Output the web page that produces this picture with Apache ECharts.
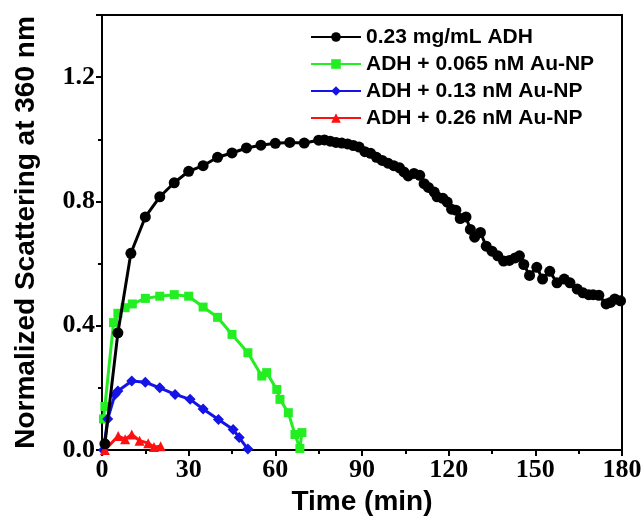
<!DOCTYPE html>
<html>
<head>
<meta charset="utf-8">
<script src="https://cdn.jsdelivr.net/npm/echarts@6/dist/echarts.min.js"></script>
<style>html,body{margin:0;padding:0;background:#fff;overflow:hidden}#c{width:644px;height:516px}</style>
</head>
<body>
<div id="c"></div>
<script>
// ---- data (time in min, normalized scattering) ----
var seriesNames = ['0.23 mg/mL ADH', 'ADH + 0.065 nM Au-NP', 'ADH + 0.13 nM Au-NP', 'ADH + 0.26 nM Au-NP'];
var xTicks = [0, 30, 60, 90, 120, 150, 180];
var yTicks = [0.0, 0.4, 0.8, 1.2];

var adhOnly = [
  [1,0.02],[5.5,0.377],[10,0.633],[15,0.75],[20,0.815],[25,0.86],[30,0.897],[35,0.915],
  [40,0.942],[45,0.956],[50,0.972],[55,0.981],[60,0.987],[65,0.99],[70,0.988],
  [75,0.997],[77,0.998],[79,0.994],[81,0.99],[83,0.988],[85,0.985],[87,0.98],[89,0.975],
  [91,0.96],[93,0.955],[95,0.942],[97,0.932],[99,0.923],[101,0.915],[103,0.908],[104.5,0.895],
  [106,0.882],[108,0.89],[110,0.884],[111.5,0.857],[113,0.845],[115,0.83],[116,0.815],
  [118,0.81],[119.5,0.798],[121,0.775],[122.5,0.772],[124,0.745],[126,0.75],[127.5,0.71],
  [129,0.685],[131,0.7],[133,0.656],[135,0.64],[137,0.625],[139,0.608],[141,0.61],
  [143,0.618],[144.5,0.625],[146,0.597],[148,0.562],[150.5,0.588],[152.5,0.55],[155,0.575],
  [157.5,0.538],[160,0.55],[162,0.538],[164.5,0.518],[166.5,0.506],[168.5,0.5],[170,0.5],
  [172,0.498],[174.5,0.47],[176,0.475],[177.5,0.486],[179.5,0.48]
];
var au065 = [
  [0.5,0.1],[1,0.14],[4,0.41],[5.5,0.44],[8,0.458],[10.5,0.47],[15,0.488],[20,0.495],
  [25,0.5],[30,0.495],[35,0.46],[40,0.427],[45,0.372],[50.5,0.313],[55.3,0.238],[57,0.249],
  [60.5,0.195],[61.6,0.163],[64.5,0.12],[66.8,0.05],[68.5,0.005],[69.2,0.056]
];
var au13 = [
  [0.5,0.0],[2,0.1],[4.5,0.179],[5.5,0.19],[10.3,0.222],[15,0.218],[20,0.2],[25.3,0.179],
  [30.5,0.163],[35,0.132],[40.3,0.098],[45.4,0.066],[47.5,0.04],[50.5,0.003]
];
var au26 = [
  [1,0.0],[5.6,0.045],[8,0.035],[10.3,0.05],[13,0.03],[16,0.022],[18,0.01],[20.3,0.012]
];

var colors = ['#000000', '#22ee22', '#1414e6', '#ff1010'];
var symbols = ['circle', 'rect', 'diamond', 'triangle'];
var sizes = [11, 9, 11, 10];
var datasets = [adhOnly, au065, au13, au26];

var chart = echarts.init(document.getElementById('c'), null, {renderer: 'canvas'});
var tickFont = {fontFamily: '"Liberation Serif", "Times New Roman", serif', fontWeight: 'bold', fontSize: 26, color: '#000'};
var nameFont = {fontFamily: '"Liberation Sans", Arial, sans-serif', fontWeight: 'bold', fontSize: 28, color: '#000'};

var series = datasets.map(function (d, i) {
  return {
    name: seriesNames[i],
    type: 'line',
    data: d,
    symbol: symbols[i],
    symbolSize: sizes[i],
    showAllSymbol: true,
    z: i === 0 ? 5 : 3,
    lineStyle: {color: colors[i], width: 3},
    itemStyle: {color: colors[i]},
    animation: false
  };
});

chart.setOption({
  animation: false,
  backgroundColor: '#fff',
  grid: {
    left: 102, right: 22, top: 15, bottom: 66,
    containLabel: false, outerBoundsMode: 'none',
    show: true, borderWidth: 2, borderColor: '#000', backgroundColor: 'rgba(0,0,0,0)'
  },
  legend: {
    orient: 'vertical', left: 310, top: 26, padding: 0,
    itemWidth: 50, itemHeight: 12, itemGap: 5,
    textStyle: {fontFamily: '"Liberation Sans", Arial, sans-serif', fontWeight: 'bold', fontSize: 21, color: '#000', lineHeight: 22},
    data: seriesNames
  },
  xAxis: {
    type: 'value', min: xTicks[0], max: xTicks[xTicks.length - 1], interval: 30,
    name: 'Time (min)', nameLocation: 'middle', nameGap: 37, nameTextStyle: nameFont,
    axisLine: {show: true, onZero: false, lineStyle: {color: '#000', width: 2}},
    axisTick: {show: true, length: 6, lineStyle: {color: '#000', width: 2}},
    minorTick: {show: true, splitNumber: 2, length: 4, lineStyle: {color: '#000', width: 2}},
    splitLine: {show: false},
    axisLabel: Object.assign({margin: 7}, tickFont)
  },
  yAxis: {
    type: 'value', min: 0, max: 1.4, interval: 0.4,
    name: 'Normalized Scattering at 360 nm', nameLocation: 'middle', nameGap: 62, nameTextStyle: nameFont,
    axisLine: {show: true, onZero: false, lineStyle: {color: '#000', width: 2}},
    axisTick: {show: true, length: 6, lineStyle: {color: '#000', width: 2}},
    minorTick: {show: true, splitNumber: 2, length: 4, lineStyle: {color: '#000', width: 2}},
    splitLine: {show: false},
    axisLabel: Object.assign({margin: 7, showMaxLabel: false, formatter: function (v) {
      return yTicks.some(function (t) { return Math.abs(t - v) < 1e-9; }) ? v.toFixed(1) : '';
    }}, tickFont)
  },
  series: series
});
</script>
</body>
</html>
